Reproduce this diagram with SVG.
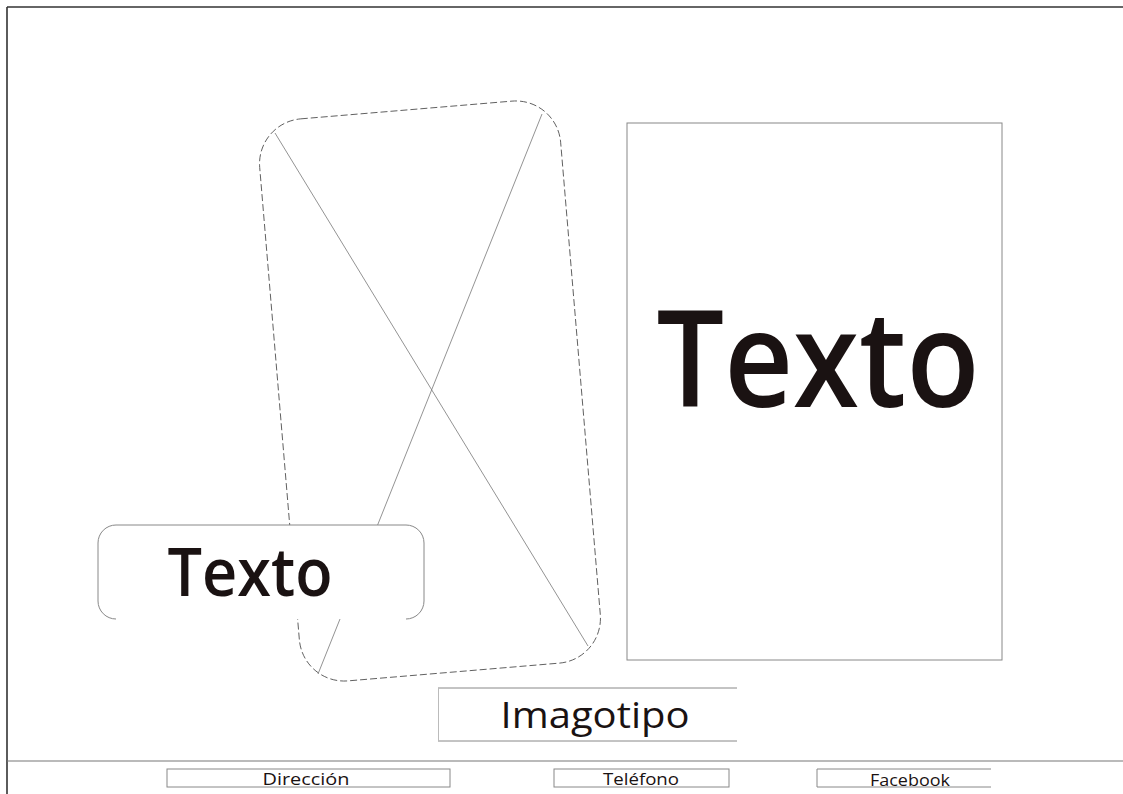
<svg xmlns="http://www.w3.org/2000/svg" width="1123" height="794" viewBox="0 0 1123 794">
  <style>
    .frame { fill: none; stroke: #333; stroke-width: 1.6; }
    .rule { fill: none; stroke: #777; stroke-width: 1.2; }
    .thin { fill: none; stroke: #888; stroke-width: 1; }
    .dash { fill: none; stroke: #555; stroke-width: 0.9; stroke-dasharray: 7 3; }
    .diag { fill: none; stroke: #777; stroke-width: 0.8; }
    .txt { font-family: "Open Sans", "Noto Sans", "Liberation Sans", sans-serif; font-weight: 600; fill: #1a1212; text-anchor: middle; }
    .small { font-weight: 400; }
  </style>
  <rect width="1123" height="794" fill="#fff"/>

  <!-- page frame: top, left and footer rule -->
  <g id="frame">
    <line class="frame" x1="7" y1="7" x2="1123" y2="7"/>
    <line class="frame" x1="7" y1="7" x2="7" y2="794"/>
    <line class="rule" x1="7" y1="761" x2="1123" y2="761"/>
  </g>

  <!-- image placeholder (rotated, dashed, with cross) -->
  <g id="image-placeholder">
    <rect class="dash" x="-151" y="-282" width="302" height="564" rx="45" transform="translate(430,391) rotate(-4.8)"/>
    <line class="diag" x1="275" y1="133" x2="588" y2="646"/>
    <line class="diag" x1="542" y1="114" x2="318" y2="674"/>
  </g>

  <!-- small text label box -->
  <g id="text-small">
    <rect x="98" y="525" width="326" height="94" rx="18" fill="#fff"/>
    <path class="thin" d="M116,619 A18,18 0 0 1 98,601 L98,543 A18,18 0 0 1 116,525 L406,525 A18,18 0 0 1 424,543 L424,601 A18,18 0 0 1 406,619"/>
    <text class="txt" x="250" y="596" font-size="67" textLength="165" lengthAdjust="spacingAndGlyphs">Texto</text>
  </g>

  <!-- large text panel -->
  <g id="text-large">
    <rect class="thin" x="627" y="123" width="375" height="537"/>
    <text class="txt" x="818" y="407" font-size="134" textLength="323" lengthAdjust="spacingAndGlyphs">Texto</text>
  </g>

  <!-- logo box -->
  <g id="imagotipo">
    <line class="thin" x1="438" y1="688" x2="737" y2="688"/>
    <line class="thin" x1="438" y1="741" x2="737" y2="741"/>
    <line stroke="#bbb" stroke-width="1" x1="438.5" y1="688" x2="438.5" y2="741"/>
    <text class="txt small" x="595" y="728" font-size="36" textLength="189" lengthAdjust="spacingAndGlyphs">Imagotipo</text>
  </g>

  <!-- footer fields -->
  <g id="direccion">
    <rect class="thin" x="167" y="769" width="283" height="18"/>
    <text class="txt small" x="306" y="785" font-size="17" textLength="87" lengthAdjust="spacingAndGlyphs">Dirección</text>
  </g>
  <g id="telefono">
    <rect class="thin" x="554" y="769" width="175" height="18"/>
    <text class="txt small" x="641" y="785" font-size="17" textLength="76" lengthAdjust="spacingAndGlyphs">Teléfono</text>
  </g>
  <g id="facebook">
    <path class="thin" d="M991,769 L817,769 L817,787 L991,787"/>
    <text class="txt small" x="910" y="786" font-size="17" textLength="80" lengthAdjust="spacingAndGlyphs">Facebook</text>
  </g>
</svg>
